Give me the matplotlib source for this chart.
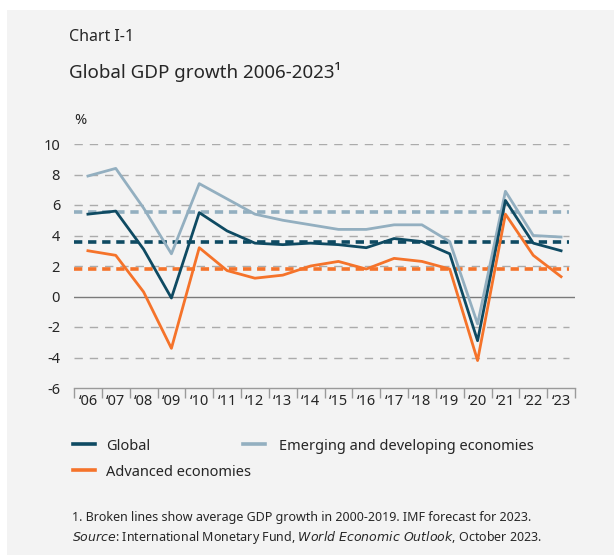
import matplotlib
matplotlib.use("Agg")
import matplotlib.pyplot as plt
from matplotlib.patches import Rectangle

years = ["‘06", "‘07", "‘08", "‘09", "‘10", "‘11", "‘12", "‘13", "‘14", "‘15",
         "‘16", "‘17", "‘18", "‘19", "‘20", "‘21", "‘22", "‘23"]
global_gdp = [5.4, 5.6, 3.1, -0.1, 5.5, 4.3, 3.5, 3.4, 3.5, 3.4,
              3.2, 3.8, 3.6, 2.8, -2.9, 6.3, 3.5, 3.0]
emerging = [7.9, 8.4, 5.8, 2.8, 7.4, 6.4, 5.4, 5.0, 4.7, 4.4,
            4.4, 4.7, 4.7, 3.6, -1.8, 6.9, 4.0, 3.9]
advanced = [3.0, 2.7, 0.3, -3.4, 3.2, 1.7, 1.2, 1.4, 2.0, 2.3,
            1.8, 2.5, 2.3, 1.8, -4.2, 5.4, 2.7, 1.3]
avg_global = 3.6
avg_emerging = 5.55
avg_advanced = 1.8
yticks = [10, 8, 6, 4, 2, 0, -2, -4, -6]

c_global = "#0e4a62"
c_em = "#93afc0"
c_adv = "#f5732a"
c_text = "#262626"
bg = "#f3f3f3"

plt.rcParams['font.family'] = ['Noto Sans', 'DejaVu Sans']

fig = plt.figure(figsize=(6.14, 5.55), dpi=100)
fig.patch.set_facecolor("white")
fig.add_artist(Rectangle((7/614, 0), 1, 1 - 10/555, transform=fig.transFigure,
                         facecolor=bg, edgecolor="none", zorder=-10))

ax = fig.add_axes([74/614, 1 - 388/555, 501/614, 244/555])
ax.set_zorder(1)
ax.patch.set_visible(False)

x = list(range(len(years)))
ax.set_xlim(-0.5, len(years) - 0.5)
ax.set_ylim(-6, 10)

# gridlines
for t in yticks:
    if t == 0:
        ax.plot([-0.5, len(years) - 0.5], [0, 0], color="#7a7a7a", lw=1.0, zorder=2)
    elif t != -6:
        ax.plot([-0.5, len(years) - 0.7], [t, t], color="#ababab", lw=1.0,
                dashes=(6, 5), zorder=1)

# averages
for val, col in [(avg_emerging, c_em), (avg_global, c_global), (avg_advanced, c_adv)]:
    ax.plot([-0.5, len(years) - 0.7], [val, val], color=col, lw=2.6,
            dashes=(2.3, 1.6), zorder=3, dash_capstyle="butt")

l_em, = ax.plot(x, emerging, color=c_em, lw=2.0, zorder=4)
l_gl, = ax.plot(x, global_gdp, color=c_global, lw=2.0, zorder=5)
l_ad, = ax.plot(x, advanced, color=c_adv, lw=2.0, zorder=6)

for s in ["top", "right", "left"]:
    ax.spines[s].set_visible(False)
ax.spines["bottom"].set_color("#9a9a9a")
ax.spines["bottom"].set_linewidth(1.0)

ax.set_yticks(yticks)
ax.set_yticklabels([str(t) for t in yticks], fontsize=10.5, color=c_text)
ax.tick_params(axis="y", length=0, pad=10)

ax.set_xticks([i - 0.5 for i in range(len(years) + 1)])
ax.set_xticklabels([])
ax.set_xticks(x, minor=True)
ax.set_xticklabels(years, minor=True, fontsize=10.5, color=c_text)
ax.tick_params(axis="x", which="major", direction="out", length=7, color="#9a9a9a", width=1)
ax.tick_params(axis="x", which="minor", length=0, pad=4)

fig.text(69/614, 1 - 37/555, "Chart I-1", fontsize=11.5, color=c_text, va="center", ha="left")
fig.text(69/614, 1 - 72/555, "Global GDP growth 2006-2023¹", fontsize=13.5, color=c_text,
         va="center", ha="left")
fig.text(74/614, 1 - 121/555, "%", fontsize=10.5, color=c_text, va="center", ha="left")

leg_kw = dict(loc="center left", frameon=False, fontsize=10.5, handlelength=1.5,
              labelcolor=c_text, borderaxespad=0, borderpad=0)
legends = [
    fig.legend([l_gl], ["Global"], bbox_to_anchor=(73/614, 1 - 446/555),
               handletextpad=0.75, **leg_kw),
    fig.legend([l_ad], ["Advanced economies"], bbox_to_anchor=(73/614, 1 - 472/555),
               handletextpad=0.75, **leg_kw),
    fig.legend([l_em], ["Emerging and developing economies"],
               bbox_to_anchor=(243/614, 1 - 446/555), handletextpad=0.95, **leg_kw),
]
for lg in legends:
    for h in lg.legend_handles:
        h.set_linewidth(2.6)

fig.text(72/614, 1 - 517/555,
         "1. Broken lines show average GDP growth in 2000-2019. IMF forecast for 2023.",
         fontsize=9, color=c_text, va="center", ha="left")
fig.text(72/614, 1 - 537/555,
         r"$\it{Source}$: International Monetary Fund, $\it{World\ Economic\ Outlook}$, October 2023.",
         fontsize=9, color=c_text, va="center", ha="left")

fig.savefig("out.png", dpi=100, facecolor=fig.get_facecolor())
